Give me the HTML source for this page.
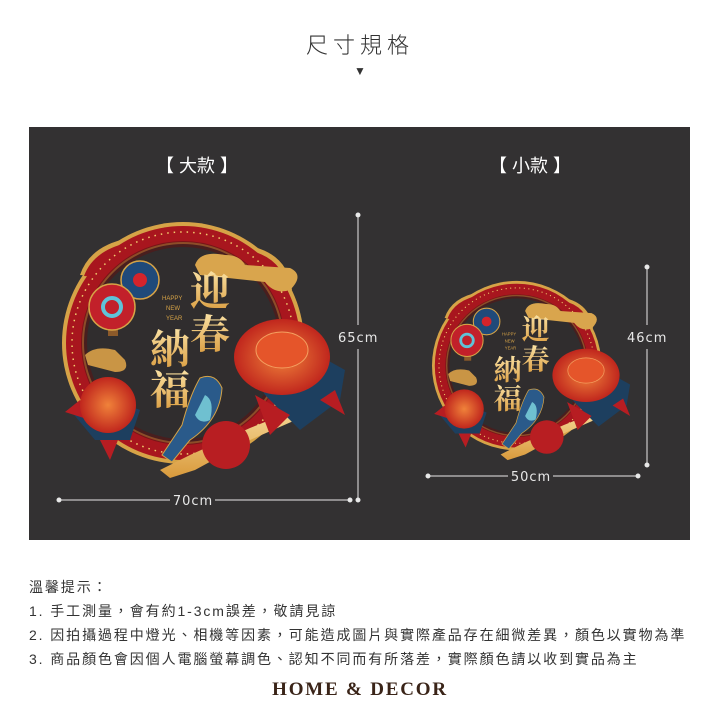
<!DOCTYPE html>
<html><head><meta charset="utf-8"><style>
html,body{margin:0;padding:0;background:#fff;}
body{width:720px;height:720px;position:relative;overflow:hidden;font-family:"Liberation Sans","Noto Sans CJK TC",sans-serif;}
.t{position:absolute;white-space:nowrap;}
</style></head><body>
<div class="t" style="left:0;width:720px;text-align:center;top:28px;font-size:22px;letter-spacing:5px;color:#333;font-weight:300;">尺寸規格</div>
<div class="t" style="left:0;width:720px;text-align:center;top:64px;font-size:12px;color:#333;">▼</div>
<svg style="position:absolute;left:0;top:0" width="720" height="720" viewBox="0 0 720 720">
<defs>
<linearGradient id="gold" x1="0" y1="0" x2="0" y2="1"><stop offset="0" stop-color="#fbe3a6"/><stop offset="1" stop-color="#d99a3c"/></linearGradient>
<radialGradient id="fl" cx="0.5" cy="0.5" r="0.5"><stop offset="0" stop-color="#f0823a"/><stop offset="1" stop-color="#c0261d"/></radialGradient>
<g id="orn">
 <circle cx="183" cy="343" r="121" fill="#d6a347"/>
 <path d="M80,275 Q90,245 130,238 Q155,224 190,224 Q228,226 250,246 Q288,254 292,290 Z" fill="#d6a347"/>
 <circle cx="183" cy="343" r="117" fill="#a8161e"/>
 <path d="M84,276 Q94,249 132,242 Q156,228 190,228 Q226,230 248,250 Q284,258 288,292 Z" fill="#a8161e"/>
 <circle cx="183" cy="343" r="111" fill="none" stroke="#f3cf6e" stroke-width="1.5" stroke-dasharray="1.5 5"/>
 <circle cx="183" cy="343" r="101" fill="#d6a347"/>
 <circle cx="183" cy="343" r="99" fill="#302d2e"/>
 <circle cx="183" cy="343" r="99" fill="none" stroke="#5a1414" stroke-width="6" opacity="0.6"/>
 <path d="M195,265 Q200,250 225,255 Q240,255 245,265 L290,268 Q305,275 290,290 Q275,295 265,282 L200,275Z" fill="#d9a54d"/>
 <path d="M85,355 Q95,345 115,350 L125,360 Q130,372 115,372 L88,365Z" fill="#c99545"/>
 <rect x="108" y="326" width="10" height="10" fill="#8c5a2a"/>
 <circle cx="140" cy="280" r="19" fill="#1f4a7a" stroke="#d6a347" stroke-width="1.5"/>
 <circle cx="140" cy="280" r="7" fill="#d4242b"/>
 <circle cx="112" cy="307" r="23" fill="#c2202a" stroke="#d6a347" stroke-width="1.5"/>
 <circle cx="112" cy="307" r="9" fill="none" stroke="#5fc3d8" stroke-width="4"/>
 <g font-family="'Liberation Serif','Noto Serif CJK SC',serif" font-weight="bold" fill="url(#gold)">
  <text x="190" y="305" font-size="40">迎</text>
  <text x="190" y="348" font-size="40">春</text>
  <text x="150" y="363" font-size="40">納</text>
  <text x="150" y="404" font-size="40">福</text>
 </g>
 <g font-family="'Liberation Sans',sans-serif" font-size="6" fill="#d6a347">
  <text x="162" y="300">HAPPY</text><text x="166" y="310">NEW</text><text x="166" y="320">YEAR</text>
 </g>
 <path d="M160,470 L170,478 L195,470 L250,440 L330,405 L325,398 L250,428 L190,455Z" fill="url(#gold)"/>
 <path d="M240,350 L265,395 L300,430 L340,400 L345,370 L300,345Z" fill="#1d3f5f"/>
 <path d="M255,395 L270,435 L290,415Z M320,400 L345,415 L335,390Z" fill="#b71d22"/>
 <path d="M70,410 L95,440 L130,440 L140,410 L100,395Z" fill="#1d3f5f"/>
 <path d="M65,412 L80,400 L90,420Z M100,440 L110,460 L118,440Z" fill="#b71d22"/>
 <ellipse cx="282" cy="357" rx="48" ry="38" fill="url(#fl)"/>
 <ellipse cx="282" cy="350" rx="26" ry="18" fill="#e5552a" stroke="#f4a060" stroke-width="1"/>
 <circle cx="108" cy="405" r="28" fill="url(#fl)"/>
 <circle cx="226" cy="445" r="24" fill="#b81e22"/>
 <path d="M200,378 Q215,372 222,388 Q220,420 190,440 L172,462 L162,455 L182,425 Q190,395 200,378Z" fill="#2a5a8a" stroke="#d6a347" stroke-width="1"/>
 <path d="M205,395 Q215,400 210,420 Q200,425 195,415Z" fill="#6fc0d0"/>
</g>
</defs>
<rect x="29" y="127" width="661" height="413" fill="#333132"/>
<g font-family="'Liberation Sans','Noto Sans CJK TC',sans-serif" fill="#fff" font-size="18">
 <text x="197" y="172" text-anchor="middle">【 大款 】</text>
 <text x="530" y="172" text-anchor="middle">【 小款 】</text>
</g>
<use href="#orn"/>
<use href="#orn" transform="translate(388.6,125.5) scale(0.7)"/>
<g stroke="#e8e8e8" stroke-width="1" fill="#e8e8e8">
 <line x1="358" y1="215" x2="358" y2="325"/><line x1="358" y1="349" x2="358" y2="500"/>
 <circle cx="358" cy="215" r="2"/><circle cx="358" cy="500" r="2"/>
 <line x1="59" y1="500" x2="170" y2="500"/><line x1="215" y1="500" x2="350" y2="500"/>
 <circle cx="59" cy="500" r="2"/><circle cx="350" cy="500" r="2"/>
 <line x1="647" y1="267" x2="647" y2="325"/><line x1="647" y1="349" x2="647" y2="465"/>
 <circle cx="647" cy="267" r="2"/><circle cx="647" cy="465" r="2"/>
 <line x1="428" y1="476" x2="508" y2="476"/><line x1="553" y1="476" x2="638" y2="476"/>
 <circle cx="428" cy="476" r="2"/><circle cx="638" cy="476" r="2"/>
</g>
<g font-family="'DejaVu Sans',sans-serif" fill="#e8e8e8" font-size="13" letter-spacing="1">
 <text x="338" y="342">65cm</text>
 <text x="627" y="342">46cm</text>
 <text x="193" y="505" text-anchor="middle">70cm</text>
 <text x="531" y="481" text-anchor="middle">50cm</text>
</g>
</svg>
<div class="t" style="left:29px;top:575px;font-size:14px;color:#333;line-height:24px;letter-spacing:1.9px;">溫馨提示：<br>1. 手工測量，會有約1-3cm誤差，敬請見諒<br>2. 因拍攝過程中燈光、相機等因素，可能造成圖片與實際產品存在細微差異，顏色以實物為準<br>3. 商品顏色會因個人電腦螢幕調色、認知不同而有所落差，實際顏色請以收到實品為主</div>
<div class="t" style="left:0;width:720px;text-align:center;top:679px;font-family:'Liberation Serif',serif;font-weight:bold;font-size:19px;letter-spacing:1.8px;color:#3a2418;">HOME &amp; DECOR</div>
</body></html>
